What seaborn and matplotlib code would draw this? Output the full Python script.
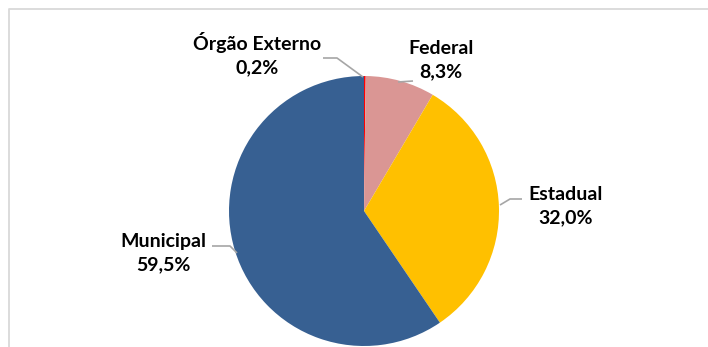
import matplotlib
matplotlib.use("Agg")
import matplotlib.pyplot as plt
import seaborn as sns

categories = ["Órgão Externo", "Federal", "Estadual", "Municipal"]
values = [0.2, 8.3, 32.0, 59.5]
colors = ["#FF0000", "#DA9694", "#FFC000", "#376092"]

sns.set_theme(style="white")
plt.rcParams["font.family"] = ["Lato", "DejaVu Sans"]

W, H = 708, 347
fig = plt.figure(figsize=(W / 100, H / 100), dpi=100)
ax = fig.add_axes([0, 0, 1, 1])

cx, cy, r = 364, H - 211, 135
ax.pie(values, colors=colors, startangle=90, counterclock=False,
       center=(cx, cy), radius=r, wedgeprops=dict(linewidth=0))

# label positions (pixel coords, y from top) and leader lines
label_pos = {
    "Órgão Externo": (257, 54),
    "Federal": (441, 60),
    "Estadual": (566, 206),
    "Municipal": (163, 253),
}
leaders = {
    "Órgão Externo": [(323, 58), (337, 58), (363, 77)],
    "Federal": [(413, 81), (398, 82)],
    "Estadual": [(522, 199), (510, 199), (500, 205)],
    "Municipal": [(212, 246), (230, 246), (237, 253)],
}
for cat, val in zip(categories, values):
    x, y = label_pos[cat]
    txt = f"{cat}\n{val:.1f}%".replace(".", ",")
    ax.text(x, H - y, txt, ha="center", va="center", fontsize=14,
            fontweight="bold", color="#000000", linespacing=1.4)
    pts = leaders[cat]
    ax.plot([p[0] for p in pts], [H - p[1] for p in pts],
            color="#A6A6A6", lw=1.2, solid_capstyle="butt")

# chart border (clipped at right/bottom)
ax.plot([8.5, 8.5, W + 5], [-5, H - 8.5, H - 8.5], color="#D9D9D9", lw=1.3)

ax.set_xlim(0, W)
ax.set_ylim(0, H)
ax.set_aspect("auto")
ax.axis("off")

fig.savefig("out.png", dpi=100)
